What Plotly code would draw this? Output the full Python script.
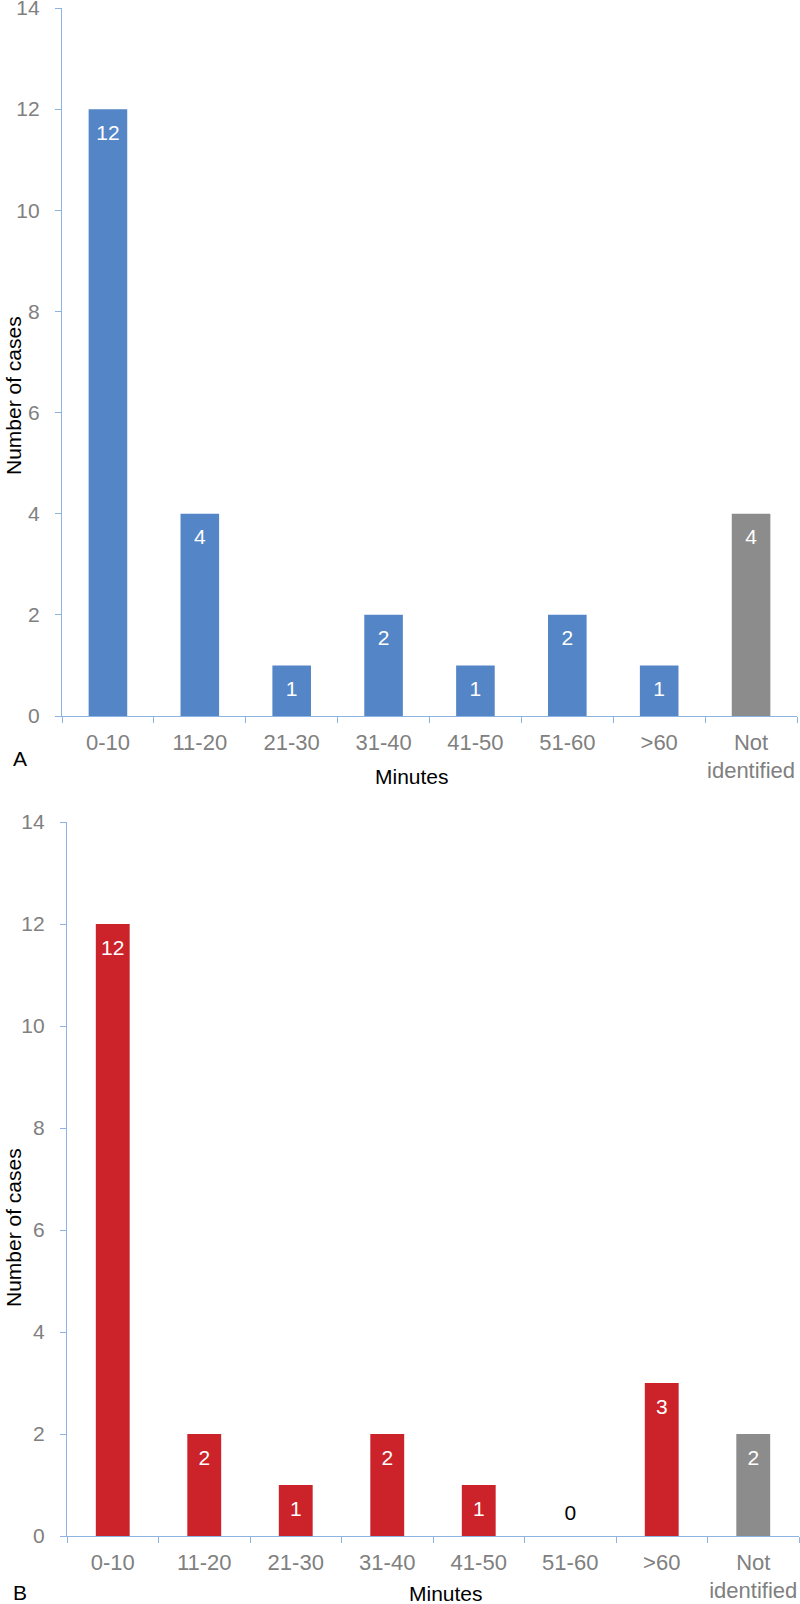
import plotly.graph_objects as go

W, H = 800, 1604

categories = ["0-10", "11-20", "21-30", "31-40", "41-50", "51-60", ">60", "Not identified"]
tick_labels = ["0-10", "11-20", "21-30", "31-40", "41-50", "51-60", ">60", "Not<br>identified"]
values_a = [12, 4, 1, 2, 1, 2, 1, 4]
values_b = [12, 2, 1, 2, 1, 0, 3, 2]
y_ticks = [0, 2, 4, 6, 8, 10, 12, 14]

BLUE = "#5485C6"
RED = "#CC2229"
GRAY = "#8C8C8C"
AXIS = "#8DB3E2"
TICKTXT = "#808080"
FONT = "Liberation Sans, Arial, sans-serif"

colors_a = [BLUE] * 7 + [GRAY]
colors_b = [RED] * 7 + [GRAY]

fig = go.Figure()

def px_x(p):
    return p / W

def px_y(p):
    return 1 - p / H

# Panel A
fig.add_trace(go.Bar(x=categories, y=values_a, marker=dict(color=colors_a, line=dict(width=0)),
                     width=0.42, xaxis="x", yaxis="y", showlegend=False, hoverinfo="skip"))
fig.add_trace(go.Scatter(x=categories, y=[v - 0.5 for v in values_a], text=[str(v) for v in values_a],
                         mode="text", textfont=dict(color="white", size=21, family=FONT),
                         xaxis="x", yaxis="y", showlegend=False, hoverinfo="skip", cliponaxis=False))

# Panel B
fig.add_trace(go.Bar(x=categories, y=values_b, marker=dict(color=colors_b, line=dict(width=0)),
                     width=0.37, xaxis="x2", yaxis="y2", showlegend=False, hoverinfo="skip"))
lab_y_b = [v - 0.5 if v > 0 else 0.42 for v in values_b]
lab_c_b = ["white" if v > 0 else "black" for v in values_b]
fig.add_trace(go.Scatter(x=categories, y=lab_y_b, text=[str(v) for v in values_b],
                         mode="text", textfont=dict(color=lab_c_b, size=21, family=FONT),
                         xaxis="x2", yaxis="y2", showlegend=False, hoverinfo="skip", cliponaxis=False))

xaxis_common = dict(
    type="category", categoryorder="array", categoryarray=categories,
    tickvals=categories, ticktext=tick_labels, tickangle=0, automargin=False,
    showline=True, linecolor=AXIS, linewidth=1.3,
    ticks="outside", tickson="boundaries", ticklen=6, tickcolor=AXIS, tickwidth=1.3,
    showgrid=False, zeroline=False,
    tickfont=dict(size=22, color=TICKTXT, family=FONT),
    ticklabelstandoff=6, ticklabeloverflow="allow",
    range=[-0.5, 7.5],
)
yaxis_common = dict(
    range=[0, 14], tickvals=y_ticks, automargin=False,
    showline=True, linecolor=AXIS, linewidth=1.3,
    ticks="outside", ticklen=6, tickcolor=AXIS, tickwidth=1.3,
    showgrid=False, zeroline=False,
    tickfont=dict(size=21, color=TICKTXT, family=FONT),
    ticklabelstandoff=11, ticklabeloverflow="allow",
)

fig.update_layout(
    width=W, height=H,
    margin=dict(l=0, r=0, t=0, b=0, autoexpand=False),
    paper_bgcolor="white", plot_bgcolor="white",
    xaxis=dict(domain=[px_x(62), px_x(797)], anchor="y", **xaxis_common),
    yaxis=dict(domain=[px_y(716), px_y(8)], anchor="x", **yaxis_common),
    xaxis2=dict(domain=[px_x(67), px_x(799)], anchor="y2", **xaxis_common),
    yaxis2=dict(domain=[px_y(1536), px_y(822)], anchor="x2", **yaxis_common),
    bargap=0.5,
)

ann = []
def add_text(text, x, y, size=20, angle=0, color="black"):
    ann.append(dict(text=text, x=px_x(x), y=px_y(y), xref="paper", yref="paper",
                    xanchor="center", yanchor="middle", showarrow=False, textangle=angle,
                    font=dict(size=size, color=color, family=FONT)))

add_text("A", 20, 758, size=21)
add_text("Minutes", 412, 776, size=21)
add_text("Number of cases", 13, 396, size=21, angle=-90)
add_text("B", 20, 1592, size=21)
add_text("Minutes", 446, 1593, size=21)
add_text("Number of cases", 13, 1228, size=21, angle=-90)

fig.update_layout(annotations=ann)

fig.write_html("out.html", config={"displayModeBar": False},
               post_script="document.body.style.margin='0';document.body.style.overflow='hidden';")
